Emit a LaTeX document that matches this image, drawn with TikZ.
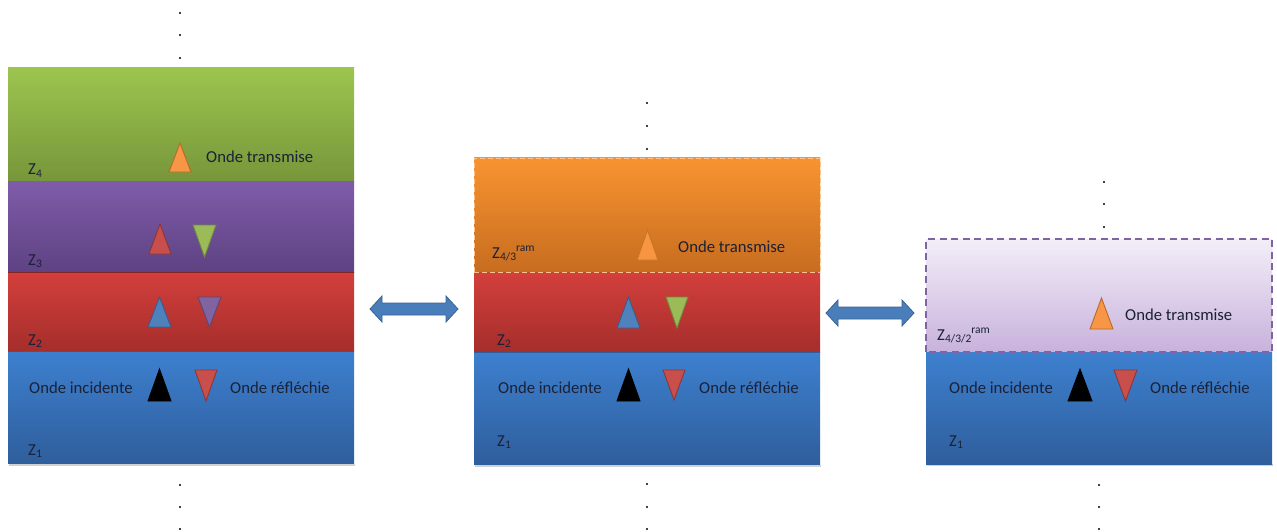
\documentclass[tikz,border=0pt]{standalone}
\usepackage{fontspec}
\usetikzlibrary{calc}
\setmainfont{Carlito}
\begin{document}
\begin{tikzpicture}[x=1pt,y=-1pt,
  layer/.style={inner sep=0pt, outer sep=0pt, anchor=north west},
  lbl/.style={inner sep=0pt, anchor=base west, text=txt, font=\fontsize{16.7}{19}\selectfont},
  zlbl/.style={inner sep=0pt, anchor=base west, text=txt, font=\fontsize{16.7}{19}\selectfont},
  tri/.style={line width=0.9pt, line join=miter},
  dot/.style={fill=black, inner sep=0pt, minimum size=2.2pt, circle},
  barrow/.style={fill=arrowblue, draw=arrowedge, line width=0.8pt, line join=miter}
]
\definecolor{txt}{HTML}{1B2136}
\definecolor{grT}{HTML}{9CC54F}\definecolor{grB}{HTML}{77963A}
\definecolor{puT}{HTML}{7F5CA9}\definecolor{puB}{HTML}{5E4283}
\definecolor{reT}{HTML}{D33F3C}\definecolor{reB}{HTML}{A52E2B}
\definecolor{blT}{HTML}{3D80CF}\definecolor{blB}{HTML}{2F5E9C}
\definecolor{orT}{HTML}{F89330}\definecolor{orB}{HTML}{C76D20}
\definecolor{laT}{HTML}{F3EEF8}\definecolor{laB}{HTML}{C8B2DC}
\definecolor{arrowblue}{HTML}{4A7EBB}\definecolor{arrowedge}{HTML}{3A6294}
\definecolor{oF}{HTML}{F79646}\definecolor{oD}{HTML}{B8692B}
\definecolor{rF}{HTML}{C94F4C}\definecolor{rD}{HTML}{8E3634}
\definecolor{gF}{HTML}{9BBB59}\definecolor{gD}{HTML}{71893F}
\definecolor{bF}{HTML}{4F81BD}\definecolor{bD}{HTML}{385D8A}
\definecolor{pF}{HTML}{8064A2}\definecolor{pD}{HTML}{5C4776}
\newcommand\tup[6]{\draw[tri,fill=#5,draw=#6] (#1,#4) -- ({(#1+#2)/2},#3) -- (#2,#4) -- cycle;}
\newcommand\tdn[6]{\draw[tri,fill=#5,draw=#6] (#1,#3) -- ({(#1+#2)/2},#4) -- (#2,#3) -- cycle;}
\newcommand\zsub[1]{\raisebox{-0.35ex}{\fontsize{11.5}{13}\selectfont #1}}
\newcommand\zsup[1]{\raisebox{0.85ex}{\fontsize{11.5}{13}\selectfont #1}}
\useasboundingbox (0,0) rectangle (1277,532);
\fill[white] (0,0) rectangle (1277,532);

% ---------------- Panel 1 ----------------
\fill[black!18] (9,464) rectangle (355,466);
\node[layer, minimum width=346, minimum height=113, top color=grT, bottom color=grB] (p1g) at (8,68) {};
\node[layer, minimum width=346, minimum height=91, top color=puT, bottom color=puB] (p1p) at (8,181) {};
\node[layer, minimum width=346, minimum height=79, top color=reT, bottom color=reB] (p1r) at (8,272) {};
\node[layer, minimum width=346, minimum height=112, top color=blT, bottom color=blB] (p1b) at (8,351) {};
\draw[reB!80!black, line width=0.6pt] (p1r.north west) -- (p1r.north east);
\draw[blB, line width=0.6pt] (p1b.north west) -- (p1b.north east);
\node[dot] (d1a) at (180,13) {};\node[dot] (d1b) at (180,35) {};\node[dot] (d1c) at (180,58) {};
\node[dot] (d1d) at (180,485) {};\node[dot] (d1e) at (180,507) {};\node[dot] (d1f) at (180,529) {};
\node[zlbl] (z14) at (28,175) {Z\zsub{4}};
\node[zlbl] (z13) at (28,265) {Z\zsub{3}};
\node[zlbl] (z12) at (28,345) {Z\zsub{2}};
\node[zlbl] (z11) at (28,455) {Z\zsub{1}};
\node[lbl] (t1) at (206,163) {Onde transmise};
\node[lbl] (i1) at (29,393) {Onde incidente};
\node[lbl] (r1) at (230,393) {Onde réfléchie};
\tup{169}{191}{143}{172}{oF}{oD}
\tup{149}{171}{224}{254}{rF}{rD}
\tdn{193}{216}{225}{257}{gF}{gD}
\tup{148}{171}{297}{327}{bF}{bD}
\tdn{198}{221}{297}{327}{pF}{pD}
\tup{148}{171}{369}{401}{black}{black}
\tdn{195}{217}{370}{401}{rF}{rD}

% ---------------- Panel 2 ----------------
\fill[black!18] (475,465) rectangle (821,467);
\node[layer, minimum width=346, minimum height=114, top color=orT, bottom color=orB] (p2o) at (474,158) {};
\node[layer, minimum width=346, minimum height=80, top color=reT, bottom color=reB] (p2r) at (474,272) {};
\node[layer, minimum width=346, minimum height=112, top color=blT, bottom color=blB] (p2b) at (474,352) {};
\draw[orT!55!white, dash pattern=on 5pt off 3pt, line width=0.9pt] (p2o.south west) -- (p2o.north west) -- (p2o.north east) -- (p2o.south east);
\draw[orT!55!white, dash pattern=on 5pt off 3pt, line width=0.7pt] (p2o.south west) -- (p2o.south east);
\draw[blB, line width=0.6pt] (p2b.north west) -- (p2b.north east);
\node[dot] (d2a) at (647,103) {};\node[dot] (d2b) at (647,126) {};\node[dot] (d2c) at (647,149) {};
\node[dot] (d2d) at (647,484) {};\node[dot] (d2e) at (647,507) {};\node[dot] (d2f) at (647,529) {};
\node[zlbl] (z243) at (492,258) {Z\zsub{4/3}\zsup{ram}};
\node[zlbl] (z22) at (497,345) {Z\zsub{2}};
\node[zlbl] (z21) at (497,446) {Z\zsub{1}};
\node[lbl] (t2) at (678,252) {Onde transmise};
\node[lbl] (i2) at (498,393) {Onde incidente};
\node[lbl] (r2) at (699,393) {Onde réfléchie};
\tup{637}{658}{230}{260}{oF!80!orT}{orT!80!black}
\tup{617}{640}{297}{328}{bF}{bD}
\tdn{666}{688}{297}{328}{gF}{gD}
\tup{617}{640}{369}{401}{black}{black}
\tdn{663}{685}{370}{400}{rF}{rD}

% ---------------- Panel 3 ----------------
\fill[black!18] (927,464) rectangle (1273,466);
\node[layer, minimum width=346, minimum height=113, top color=laT, bottom color=laB] (p3l) at (926,239) {};
\node[layer, minimum width=346, minimum height=112, top color=blT, bottom color=blB] (p3b) at (926,352) {};
\draw[pF, dash pattern=on 7pt off 4.5pt, line width=1.3pt] (p3l.south west) rectangle (p3l.north east);
\node[dot] (d3a) at (1104,182) {};\node[dot] (d3b) at (1104,204) {};\node[dot] (d3c) at (1104,227) {};
\node[dot] (d3d) at (1099,485) {};\node[dot] (d3e) at (1099,507) {};\node[dot] (d3f) at (1099,529) {};
\node[zlbl] (z3432) at (937,340) {Z\zsub{4/3/2}\zsup{ram}};
\node[zlbl] (z31) at (949,446) {Z\zsub{1}};
\node[lbl] (t3) at (1125,320) {Onde transmise};
\node[lbl] (i3) at (949,393) {Onde incidente};
\node[lbl] (r3) at (1150,393) {Onde réfléchie};
\tup{1090}{1113}{298}{329}{oF}{oD}
\tup{1068}{1092}{369}{401}{black}{black}
\tdn{1114}{1137}{370}{401}{rF}{rD}

% ---------------- Double arrows ----------------
\coordinate (a1L) at (370,309); \coordinate (a1R) at (458,309);
\draw[barrow] (a1L) -- ++(12,-13) -- ++(0,7) -- ($(a1R)+(-12,-6)$) -- ++(0,-7) -- (a1R) -- ++(-12,13) -- ++(0,-7) -- ($(a1L)+(12,6)$) -- ++(0,7) -- cycle;
\coordinate (a2L) at (826,313); \coordinate (a2R) at (914,313);
\draw[barrow] (a2L) -- ++(12,-13) -- ++(0,7) -- ($(a2R)+(-12,-6)$) -- ++(0,-7) -- (a2R) -- ++(-12,13) -- ++(0,-7) -- ($(a2L)+(12,6)$) -- ++(0,7) -- cycle;
\end{tikzpicture}
\end{document}
